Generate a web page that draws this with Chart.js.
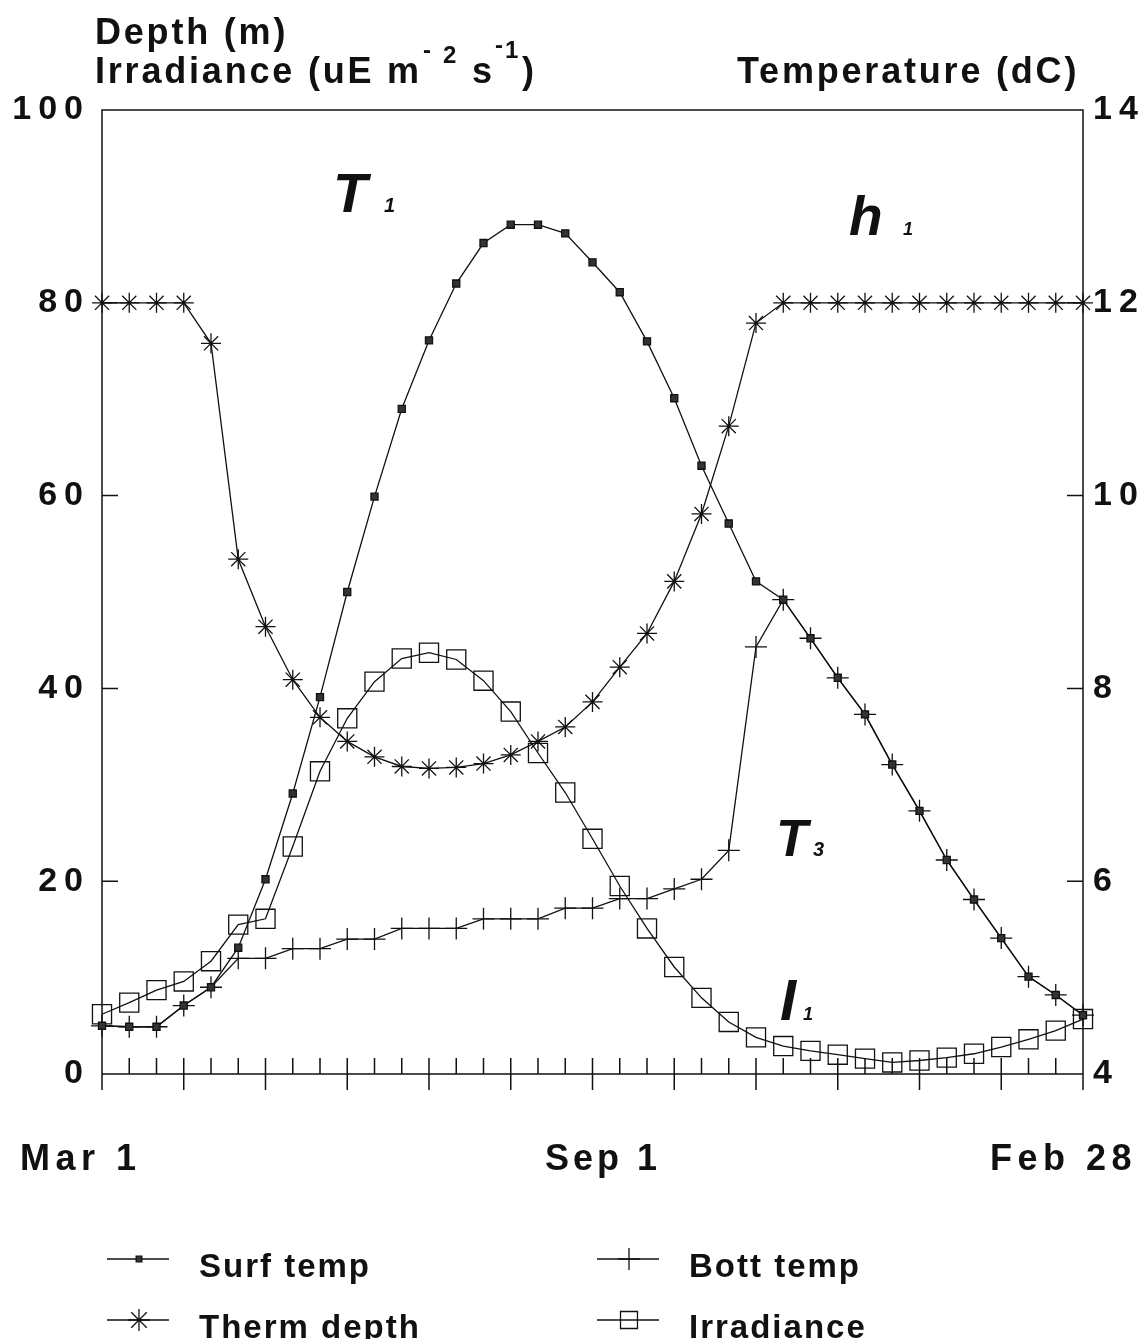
<!DOCTYPE html>
<html>
<head>
<meta charset="utf-8">
<title>Depth, irradiance and temperature</title>
<script src="https://cdn.jsdelivr.net/npm/chart.js@4.4.1/dist/chart.umd.min.js"></script>
<style>
  html, body { margin: 0; padding: 0; background: #fff; }
  #chart { display: block; }
</style>
</head>
<body>
<canvas id="chart" width="1146" height="1339"></canvas>
<script>
/* ═══════════════════════════════════════════════════════════════
   Seasonal cycle: surface / bottom temperature, thermocline depth
   and irradiance, Mar 1 → Feb 28
   ═══════════════════════════════════════════════════════════════ */

// ─── Data (one sample about every 10 days) ───
const samples = [1, 2, 3, 4, 5, 6, 7, 8, 9, 10, 11, 12, 13, 14, 15, 16, 17, 18, 19,
                 20, 21, 22, 23, 24, 25, 26, 27, 28, 29, 30, 31, 32, 33, 34, 35, 36, 37];

// temperatures (dC), right axis
const surfTemp = [4.50, 4.49, 4.49, 4.71, 4.90, 5.31, 6.02, 6.91, 7.91, 9.00, 9.99, 10.90,
                  11.61, 12.20, 12.62, 12.81, 12.81, 12.72, 12.42, 12.11, 11.60, 11.01, 10.31,
                  9.71, 9.11, 8.92, 8.52, 8.11, 7.73, 7.21, 6.73, 6.22, 5.81, 5.41, 5.01, 4.82, 4.61];
const bottTemp = [4.50, 4.49, 4.49, 4.71, 4.90, 5.20, 5.20, 5.30, 5.30, 5.40, 5.40, 5.51,
                  5.51, 5.51, 5.61, 5.61, 5.61, 5.72, 5.72, 5.82, 5.82, 5.92, 6.02,
                  6.32, 8.43, 8.92, 8.52, 8.11, 7.73, 7.21, 6.73, 6.22, 5.81, 5.41, 5.01, 4.82, 4.61];

// depth (m) and irradiance, left axis
const thermDepth = [80, 80, 80, 80, 75.8, 53.4, 46.4, 40.9, 37.0, 34.5, 32.9, 31.9,
                    31.7, 31.8, 32.2, 33.1, 34.5, 36.0, 38.6, 42.2, 45.7, 51.1, 58.1,
                    67.2, 77.9, 80, 80, 80, 80, 80, 80, 80, 80, 80, 80, 80, 80];
const irradiance = [6.2, 7.4, 8.7, 9.6, 11.7, 15.5, 16.1, 23.6, 31.4, 36.9, 40.7, 43.1,
                    43.7, 43.0, 40.8, 37.6, 33.3, 29.2, 24.4, 19.5, 15.1, 11.1, 7.9,
                    5.4, 3.8, 2.9, 2.4, 2.0, 1.6, 1.2, 1.4, 1.7, 2.1, 2.8, 3.6, 4.5, 5.7];

// ─── Axis ticks ───
const depthTicks = [0, 20, 40, 60, 80, 100];
const tempTicks = [4, 6, 8, 10, 12, 14];
const dateLabels = ['Mar 1', 'Sep 1', 'Feb 28'];

const INK = '#111';
const FONT = "'Liberation Sans', Arial, Helvetica, sans-serif";

function drawText(ctx, str, x, y, size, spacing, style) {
    ctx.font = (style || 'bold') + ' ' + size + 'px ' + FONT;
    ctx.letterSpacing = spacing + 'px';
    ctx.fillText(str, x, y);
    return x + ctx.measureText(str).width;
}

// ─── Frame, inner tick marks, labels and legend ───
const framePlugin = {
    id: 'frame',
    beforeDraw(chart) {
        // spaced-out digits on the value axes
        chart.ctx.letterSpacing = '7px';
    },
    beforeDatasetsDraw(chart) {
        const { ctx, chartArea: a, scales: { x, y, y1 } } = chart;
        const base = y.getPixelForValue(0);
        const tick = 16;
        const last = samples.length - 1;

        ctx.save();
        ctx.letterSpacing = '0px';
        ctx.strokeStyle = INK;
        ctx.lineWidth = 1.5;
        ctx.beginPath();
        ctx.moveTo(a.left, base + tick);
        ctx.lineTo(a.left, a.top);
        ctx.lineTo(a.right, a.top);
        ctx.lineTo(a.right, base + tick);
        ctx.moveTo(a.left, base);
        ctx.lineTo(a.right, base);

        // a tick per sample, the monthly ones cross the axis
        samples.forEach((s, i) => {
            if (i === 0 || i === last) return;
            const px = x.getPixelForValue(i);
            ctx.moveTo(px, base - tick);
            ctx.lineTo(px, i % 3 === 0 ? base + tick : base);
        });

        depthTicks.slice(1, -1).forEach(v => {
            const py = y.getPixelForValue(v);
            ctx.moveTo(a.left, py);
            ctx.lineTo(a.left + tick, py);
        });
        tempTicks.slice(1, -1).forEach(v => {
            const py = y1.getPixelForValue(v);
            ctx.moveTo(a.right, py);
            ctx.lineTo(a.right - tick, py);
        });
        ctx.stroke();
        ctx.restore();
    },
    afterDraw(chart) {
        const ctx = chart.ctx;
        ctx.save();
        ctx.fillStyle = INK;
        ctx.textAlign = 'left';
        ctx.textBaseline = 'alphabetic';

        // axis titles
        drawText(ctx, 'Depth (m)', 95, 44, 36, 2.8);
        drawText(ctx, 'Irradiance (uE m', 95, 83, 36, 2.8);
        drawText(ctx, '-', 423, 58, 24, 0);
        drawText(ctx, '2', 443, 63, 24, 0);
        drawText(ctx, 's', 472, 83, 36, 0);
        drawText(ctx, '-', 495, 53, 24, 0);
        drawText(ctx, '1', 505, 58, 24, 0);
        drawText(ctx, ')', 522, 83, 36, 0);
        drawText(ctx, 'Temperature (dC)', 737, 83, 36, 2.8);

        // dates under the axis
        drawText(ctx, dateLabels[0], 20, 1170, 36, 5.5);
        drawText(ctx, dateLabels[1], 545, 1170, 36, 4);
        drawText(ctx, dateLabels[2], 990, 1170, 36, 5.5);

        // curve names
        drawText(ctx, 'T', 333, 212, 56, 0, 'italic bold');
        drawText(ctx, '1', 384, 212, 20, 0, 'italic bold');
        drawText(ctx, 'h', 849, 235, 55, 0, 'italic bold');
        drawText(ctx, '1', 903, 235, 18, 0, 'italic bold');
        drawText(ctx, 'T', 776, 856, 52, 0, 'italic bold');
        drawText(ctx, '3', 813, 856, 20, 0, 'italic bold');
        drawText(ctx, 'I', 780, 1020, 58, 0, 'italic bold');
        drawText(ctx, '1', 803, 1020, 18, 0, 'italic bold');

        // legend, two columns
        const rows = [
            { ds: 0, x: 107, y: 1259, r: 4 },
            { ds: 1, x: 107, y: 1320, r: 11 },
            { ds: 2, x: 597, y: 1259, r: 11 },
            { ds: 3, x: 597, y: 1320, r: 12 }
        ];
        rows.forEach(row => {
            const ds = chart.data.datasets[row.ds];
            ctx.letterSpacing = '0px';
            ctx.strokeStyle = INK;
            ctx.lineWidth = 1.3;
            ctx.beginPath();
            ctx.moveTo(row.x, row.y);
            ctx.lineTo(row.x + 62, row.y);
            ctx.stroke();
            ctx.fillStyle = ds.pointBackgroundColor;
            Chart.helpers.drawPoint(ctx, {
                pointStyle: ds.pointStyle, radius: row.r, rotation: 0, borderWidth: 1.3
            }, row.x + 32, row.y);
            ctx.fillStyle = INK;
            drawText(ctx, ds.label, row.x + 92, row.y + 18, 33, 2);
        });
        ctx.restore();
    }
};

// ─── Chart ───
function series(label, data, axis, style, radius, fill) {
    return {
        label: label,
        data: data,
        yAxisID: axis,
        borderColor: INK,
        borderWidth: 1.3,
        tension: 0,
        pointStyle: style,
        pointRadius: radius,
        pointBorderWidth: 1.3,
        pointBorderColor: INK,
        pointBackgroundColor: fill,
        clip: false
    };
}

const valueTicks = (ticks, pad) => ({
    color: INK,
    padding: pad,
    font: { family: FONT, size: 34, weight: 'bold' }
});

new Chart(document.getElementById('chart'), {
    type: 'line',
    data: {
        labels: samples,
        datasets: [
            series('Surf temp', surfTemp, 'y1', 'rect', 5, '#333'),
            series('Therm depth', thermDepth, 'y', 'star', 10, 'rgba(0,0,0,0)'),
            series('Bott temp', bottTemp, 'y1', 'cross', 11, 'rgba(0,0,0,0)'),
            series('Irradiance', irradiance, 'y', 'rect', 13.5, 'rgba(0,0,0,0)')
        ]
    },
    options: {
        responsive: false,
        animation: false,
        devicePixelRatio: 1,
        layout: { padding: { top: 110, left: 0, right: 0, bottom: 0 } },
        plugins: {
            legend: { display: false },
            tooltip: { enabled: false }
        },
        scales: {
            x: {
                type: 'category',
                offset: false,
                grid: { display: false },
                border: { display: false },
                ticks: { display: false },
                afterFit: s => { s.height = 265; }
            },
            y: {
                position: 'left',
                min: 0,
                max: 100,
                grid: { display: false, drawTicks: false },
                border: { display: false },
                ticks: valueTicks(depthTicks, 12),
                afterBuildTicks: s => { s.ticks = depthTicks.map(v => ({ value: v })); },
                afterFit: s => { s.width = 102; }
            },
            y1: {
                position: 'right',
                min: 4,
                max: 14,
                grid: { display: false, drawTicks: false },
                border: { display: false },
                ticks: valueTicks(tempTicks, 10),
                afterBuildTicks: s => { s.ticks = tempTicks.map(v => ({ value: v })); },
                afterFit: s => { s.width = 63; }
            }
        }
    },
    plugins: [framePlugin]
});
</script>
</body>
</html>
